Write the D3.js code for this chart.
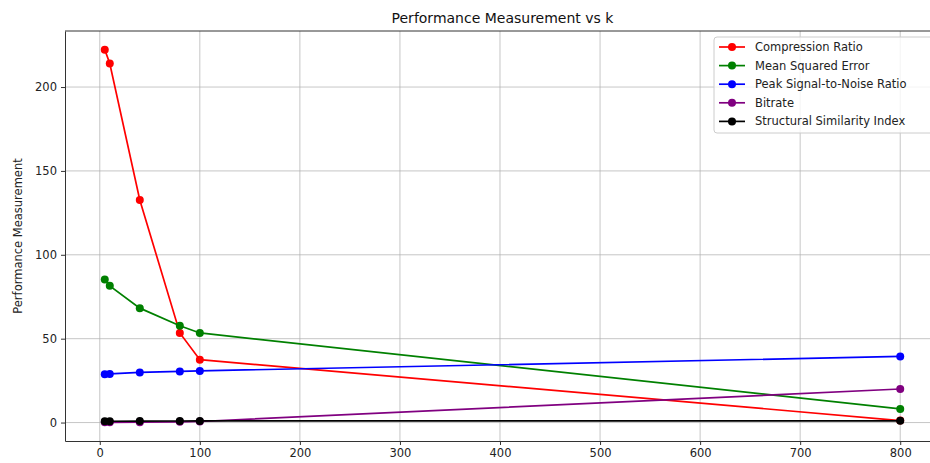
<!DOCTYPE html>
<html>
  <head>
    <meta charset="utf-8">
    <title>Performance Measurement vs k</title>
    <script src="https://d3js.org/d3.v7.min.js"></script>
    <style>
      body { margin: 0; background: #fff; }
      svg { display: block; font-family: "DejaVu Sans", sans-serif; }
    </style>
  </head>
  <body>
    <div id="chart"></div>
    <script>
      // data
      var kValues = [5, 10, 40, 80, 100, 800];
      var compressionRatio = [222.3, 214.0, 132.7, 53.4, 37.5, 1.2];
      var meanSquaredError = [85.2, 81.5, 68.2, 57.7, 53.4, 8.1];
      var psnr = [28.8, 29.0, 29.9, 30.5, 30.8, 39.4];
      var bitrate = [0.11, 0.11, 0.18, 0.45, 0.64, 20.0];
      var ssim = [0.75, 0.78, 0.85, 0.92, 0.94, 1.0];
      var xTicks = [0, 100, 200, 300, 400, 500, 600, 700, 800];
      var yTicks = [0, 50, 100, 150, 200];

      var series = [
        { name: "Compression Ratio", color: "red", values: compressionRatio },
        { name: "Mean Squared Error", color: "green", values: meanSquaredError },
        { name: "Peak Signal-to-Noise Ratio", color: "blue", values: psnr },
        { name: "Bitrate", color: "purple", values: bitrate },
        { name: "Structural Similarity Index", color: "black", values: ssim }
      ];

      var width = 930, height = 463;
      var margin = { top: 31, right: -10, bottom: 22, left: 65 };

      // matplotlib style 5% padding on both axes
      function padded(ext) {
        var r = ext[1] - ext[0];
        return [ext[0] - r * 0.05, ext[1] + r * 0.05];
      }
      var allY = d3.merge(series.map(function(s) { return s.values; }));

      var x = d3.scaleLinear()
        .domain(padded(d3.extent(kValues)))
        .range([margin.left, width - margin.right]);
      var y = d3.scaleLinear()
        .domain(padded(d3.extent(allY)))
        .range([height - margin.bottom, margin.top]);

      var svg = d3.select("#chart").append("svg")
        .attr("width", width)
        .attr("height", height);

      // grid
      var grid = svg.append("g").attr("stroke", "#b0b0b0").attr("stroke-width", 0.9);
      grid.selectAll(".gx").data(xTicks).enter().append("line")
        .attr("x1", function(d) { return x(d); })
        .attr("x2", function(d) { return x(d); })
        .attr("y1", margin.top)
        .attr("y2", height - margin.bottom)
        .attr("stroke-opacity", 0.8);
      grid.selectAll(".gy").data(yTicks).enter().append("line")
        .attr("x1", margin.left)
        .attr("x2", width - margin.right)
        .attr("y1", function(d) { return y(d); })
        .attr("y2", function(d) { return y(d); })
        .attr("stroke-opacity", 0.8);

      // axes
      var xAxis = svg.append("g")
        .attr("transform", "translate(0," + (height - margin.bottom) + ")")
        .call(d3.axisBottom(x).tickValues(xTicks).tickSizeInner(4).tickSizeOuter(0).tickPadding(4));
      var yAxis = svg.append("g")
        .attr("transform", "translate(" + margin.left + ",0)")
        .call(d3.axisLeft(y).tickValues(yTicks).tickSizeInner(4).tickSizeOuter(0).tickPadding(4));
      [xAxis, yAxis].forEach(function(a) {
        a.selectAll("text").attr("font-size", 11.5).attr("fill", "#222")
          .attr("font-family", "DejaVu Sans, sans-serif");
        a.selectAll("line").attr("stroke", "#333");
        a.select(".domain").attr("stroke", "#333").attr("stroke-width", 1);
      });
      // top spine
      svg.append("line")
        .attr("x1", margin.left).attr("x2", width - margin.right)
        .attr("y1", margin.top).attr("y2", margin.top)
        .attr("stroke", "#333");

      // lines and markers
      var line = d3.line()
        .x(function(d) { return x(d[0]); })
        .y(function(d) { return y(d[1]); });
      series.forEach(function(s) {
        var pts = d3.zip(kValues, s.values);
        var g = svg.append("g");
        g.append("path")
          .attr("d", line(pts))
          .attr("fill", "none")
          .attr("stroke", s.color)
          .attr("stroke-width", 1.7);
        g.selectAll("circle").data(pts).enter().append("circle")
          .attr("cx", function(d) { return x(d[0]); })
          .attr("cy", function(d) { return y(d[1]); })
          .attr("r", 4)
          .attr("fill", s.color);
      });

      // title and label
      svg.append("text")
        .attr("x", (margin.left + width - margin.right) / 2)
        .attr("y", 23)
        .attr("text-anchor", "middle")
        .attr("font-size", 14)
        .attr("fill", "#111")
        .text("Performance Measurement vs k");
      svg.append("text")
        .attr("transform", "translate(22," + ((margin.top + height - margin.bottom) / 2) + ") rotate(-90)")
        .attr("text-anchor", "middle")
        .attr("font-size", 11.5)
        .attr("fill", "#222")
        .text("Performance Measurement");

      // legend
      var legend = svg.append("g").attr("transform", "translate(714,37)");
      legend.append("rect")
        .attr("width", 226).attr("height", 96)
        .attr("rx", 3)
        .attr("fill", "white").attr("fill-opacity", 0.8)
        .attr("stroke", "#ccc");
      var rows = legend.selectAll(".row").data(series).enter().append("g")
        .attr("transform", function(d, i) { return "translate(0," + (10 + i * 18.6) + ")"; });
      rows.append("line")
        .attr("x1", 5).attr("x2", 31)
        .attr("stroke", function(d) { return d.color; })
        .attr("stroke-width", 1.7);
      rows.append("circle")
        .attr("cx", 18).attr("r", 4)
        .attr("fill", function(d) { return d.color; });
      rows.append("text")
        .attr("x", 41).attr("dy", "0.35em")
        .attr("font-size", 11.5)
        .attr("fill", "#222")
        .text(function(d) { return d.name; });
    </script>
  </body>
</html>
